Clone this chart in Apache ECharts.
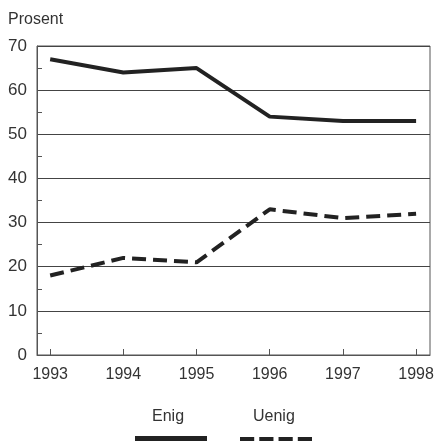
<!DOCTYPE html>
<html lang="no">
<head>
<meta charset="utf-8">
<title>Enig / Uenig</title>
<script src="https://cdn.jsdelivr.net/npm/echarts@6/dist/echarts.min.js"></script>
<style>
  html, body { margin: 0; padding: 0; background: #fff; }
  #chart { width: 437px; height: 441px; }
</style>
</head>
<body>
<div id="chart"></div>
<script type="text/javascript">
// data
var years = [1993, 1994, 1995, 1996, 1997, 1998];
var enig = [67, 64, 65, 54, 53, 53];
var uenig = [18, 22, 21, 33, 31, 32];
var yTicks = [0, 10, 20, 30, 40, 50, 60, 70];

function pairs(vals) {
  var out = [];
  for (var i = 0; i < years.length; i++) out.push([years[i], vals[i]]);
  return out;
}

var myChart = echarts.init(document.getElementById('chart'));
var font = 'Liberation Sans, Arial, sans-serif';
// legend keys: a solid bar and a bar of four dashes
var dashIcon = 'path://M0,0h14v6h-14zM19,0h14v6h-14zM38,0h14v6h-14zM57,0h14v6h-14z';

option = {
  animation: false,
  grid: {
    left: 37, right: 7, top: 46, bottom: 86,
    show: true, borderColor: '#555', borderWidth: 1,
    backgroundColor: 'transparent'
  },
  title: {
    text: 'Prosent', left: 3, top: 7,
    textStyle: { fontFamily: font, fontSize: 16, fontWeight: 'normal', color: '#333' }
  },
  legend: {
    left: 135, top: 436, padding: 0,
    itemWidth: 72, itemHeight: 8, itemGap: 28,
    formatter: function () { return ''; },
    textStyle: { fontSize: 2, lineHeight: 2 },
    itemStyle: { color: '#222' },
    data: [
      { name: 'Enig', icon: 'rect' },
      { name: 'Uenig', icon: dashIcon }
    ]
  },
  graphic: [
    { type: 'text', left: 152, top: 409, style: { text: 'Enig', font: '16px ' + font, fill: '#333' } },
    { type: 'text', left: 253, top: 409, style: { text: 'Uenig', font: '16px ' + font, fill: '#333' } }
  ],
  xAxis: {
    type: 'value',
    min: 1992.82, max: 1998.19,
    axisLine: { show: true, lineStyle: { color: '#555' } },
    axisTick: { show: true, inside: true, length: 6, customValues: years, lineStyle: { color: '#555' } },
    axisLabel: {
      customValues: years, margin: 12,
      fontFamily: font, fontSize: 16, color: '#333',
      formatter: function (v) { return String(Math.round(v)); }
    },
    splitLine: { show: false }
  },
  yAxis: {
    type: 'value',
    min: 0, max: 70, interval: 10,
    axisLine: { show: true, lineStyle: { color: '#555' } },
    axisTick: { show: false, inside: true },
    minorTick: { show: true, splitNumber: 2, length: 5, lineStyle: { color: '#555' } },
    axisLabel: { margin: 10, fontFamily: font, fontSize: 17, color: '#333', customValues: yTicks },
    splitLine: { show: true, lineStyle: { color: '#444', width: 1 } }
  },
  series: [
    {
      name: 'Enig', type: 'line', symbol: 'none',
      data: pairs(enig),
      lineStyle: { color: '#222', width: 4 },
      itemStyle: { color: '#222' }
    },
    {
      name: 'Uenig', type: 'line', symbol: 'none',
      data: pairs(uenig),
      lineStyle: { color: '#222', width: 4, type: [14, 7] },
      itemStyle: { color: '#222' }
    }
  ]
};
myChart.setOption(option);
</script>
</body>
</html>
